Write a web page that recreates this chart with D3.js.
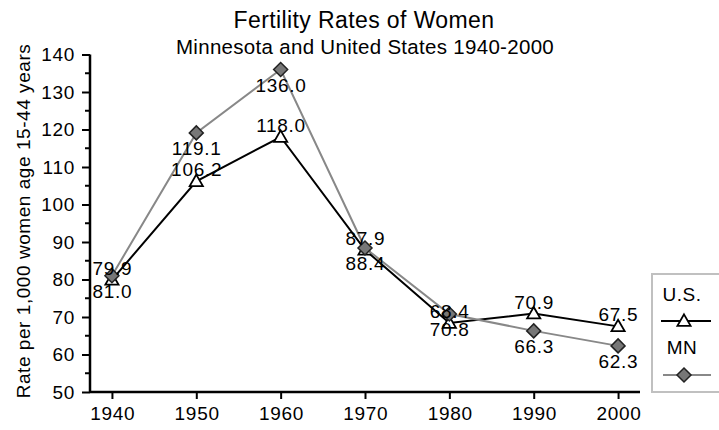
<!DOCTYPE html>
<html>
<head>
<meta charset="utf-8">
<script src="https://cdn.jsdelivr.net/npm/d3@7"></script>
<style>
  body { margin: 0; background: #fff; }
  svg { display: block; font-family: Arial, "Liberation Sans", sans-serif; }
</style>
</head>
<body>
<svg></svg>
<script>
let years = [1940, 1950, 1960, 1970, 1980, 1990, 2000];
let usRates = [79.9, 106.2, 118.0, 87.9, 68.4, 70.9, 67.5];
let mnRates = [81.0, 119.1, 136.0, 88.4, 70.8, 66.3, 62.3];
let yTicks = [50, 60, 70, 80, 90, 100, 110, 120, 130, 140];
let yMinorTicks = [55, 65, 75, 85, 95, 105, 115, 125, 135];
let seriesNames = ['U.S.', 'MN'];

let w = 719;
let h = 430;

let svg = d3.select('svg').attr('width', w).attr('height', h);

// x runs a bit past the first and last year, like the original axis line
let xScale = d3.scaleLinear()
               .domain([1937.4, 2002.6])
               .range([90, 640]);

let yScale = d3.scaleLinear()
               .domain([50, 140])
               .range([392, 54.5]);

// titles
svg.append('text')
   .attr('x', 364).attr('y', 28)
   .attr('text-anchor', 'middle')
   .style('font-size', '23px')
   .style('letter-spacing', '0.4px')
   .text('Fertility Rates of Women');

svg.append('text')
   .attr('x', 365).attr('y', 54)
   .attr('text-anchor', 'middle')
   .style('font-size', '20.5px')
   .style('letter-spacing', '0.3px')
   .text('Minnesota and United States 1940-2000');

svg.append('text')
   .attr('transform', 'translate(30, 221) rotate(-90)')
   .attr('text-anchor', 'middle')
   .style('font-size', '19px')
   .style('letter-spacing', '0.55px')
   .text('Rate per 1,000 women age 15-44 years');

// axes
let yAxis = d3.axisLeft(yScale)
              .tickValues(yTicks)
              .tickSize(8)
              .tickPadding(7)
              .tickFormat(d3.format('d'));

let yg = svg.append('g')
   .attr('transform', 'translate(90, 0)')
   .call(yAxis);
yg.select('.domain').attr('d', 'M0,' + yScale(140) + 'V' + yScale(50));

yg.selectAll('.minor')
  .data(yMinorTicks)
  .enter()
  .append('line')
  .attr('class', 'minor')
  .attr('x1', -5).attr('x2', 0)
  .attr('y1', d => yScale(d)).attr('y2', d => yScale(d))
  .attr('stroke', '#000')
  .attr('stroke-width', 2);

let xAxis = d3.axisBottom(xScale)
              .tickValues(years)
              .tickSize(7)
              .tickPadding(8)
              .tickFormat(d3.format('d'));

let xg = svg.append('g')
   .attr('transform', 'translate(0, 392)')
   .call(xAxis);
xg.select('.domain').attr('d', 'M90,0H640');

svg.selectAll('.tick text')
   .style('font-size', '19px')
   .style('letter-spacing', '0.7px')
   .attr('fill', '#000');
xg.selectAll('.tick text').attr('dx', '0.35px');
svg.selectAll('.tick line').attr('stroke-width', 2);
svg.selectAll('.domain').attr('stroke-width', 2.5);

// lines
let line = d3.line()
             .x((d, i) => xScale(years[i]))
             .y(d => yScale(d));

let triangle = d3.symbol().type(d3.symbolTriangle).size(75);
let diamond = d => 'M0,-7L7,0L0,7L-7,0Z';

svg.append('path')
   .datum(usRates)
   .attr('d', line)
   .attr('fill', 'none')
   .attr('stroke', '#000')
   .attr('stroke-width', 2);

svg.selectAll('.us-pt')
   .data(usRates)
   .enter()
   .append('path')
   .attr('class', 'us-pt')
   .attr('d', triangle)
   .attr('transform', (d, i) => 'translate(' + xScale(years[i]) + ',' + (yScale(d) + 1) + ')')
   .attr('fill', '#fff')
   .attr('stroke', '#000')
   .attr('stroke-width', 1.8);

svg.append('path')
   .datum(mnRates)
   .attr('d', line)
   .attr('fill', 'none')
   .attr('stroke', '#888')
   .attr('stroke-width', 2);

svg.selectAll('.mn-pt')
   .data(mnRates)
   .enter()
   .append('path')
   .attr('class', 'mn-pt')
   .attr('d', diamond)
   .attr('transform', (d, i) => 'translate(' + xScale(years[i]) + ',' + yScale(d) + ')')
   .attr('fill', '#777')
   .attr('stroke', '#222')
   .attr('stroke-width', 1.5);

// value labels: U.S. above its point, MN below
svg.selectAll('.us-lbl')
   .data(usRates)
   .enter()
   .append('text')
   .attr('class', 'us-lbl')
   .attr('x', (d, i) => xScale(years[i]) + 0.35)
   .attr('y', d => yScale(d) - 5)
   .attr('text-anchor', 'middle')
   .style('font-size', '19px')
   .style('letter-spacing', '0.7px')
   .text(d => d.toFixed(1));

svg.selectAll('.mn-lbl')
   .data(mnRates)
   .enter()
   .append('text')
   .attr('class', 'mn-lbl')
   .attr('x', (d, i) => xScale(years[i]) + 0.35)
   .attr('y', d => yScale(d) + 22)
   .attr('text-anchor', 'middle')
   .style('font-size', '19px')
   .style('letter-spacing', '0.7px')
   .text(d => d.toFixed(1));

// legend
let lg = svg.append('g');
lg.append('rect')
  .attr('x', 652).attr('y', 274)
  .attr('width', 80).attr('height', 118)
  .attr('fill', '#fff')
  .attr('stroke', '#c0c0c0')
  .attr('stroke-width', 2);

lg.selectAll('.lg-txt')
  .data(seriesNames)
  .enter()
  .append('text')
  .attr('class', 'lg-txt')
  .attr('x', 682)
  .attr('y', (d, i) => 301 + i * 53)
  .attr('text-anchor', 'middle')
  .style('font-size', '19px')
  .style('letter-spacing', '0.5px')
  .text(d => d);

lg.append('line')
  .attr('x1', 661).attr('x2', 711)
  .attr('y1', 321).attr('y2', 321)
  .attr('stroke', '#000').attr('stroke-width', 2);
lg.append('path')
  .attr('d', triangle)
  .attr('transform', 'translate(684,322)')
  .attr('fill', '#fff').attr('stroke', '#000').attr('stroke-width', 1.8);

lg.append('line')
  .attr('x1', 663).attr('x2', 711)
  .attr('y1', 375).attr('y2', 375)
  .attr('stroke', '#888').attr('stroke-width', 2);
lg.append('path')
  .attr('d', diamond)
  .attr('transform', 'translate(684,375)')
  .attr('fill', '#777').attr('stroke', '#222').attr('stroke-width', 1.5);
</script>
</body>
</html>
